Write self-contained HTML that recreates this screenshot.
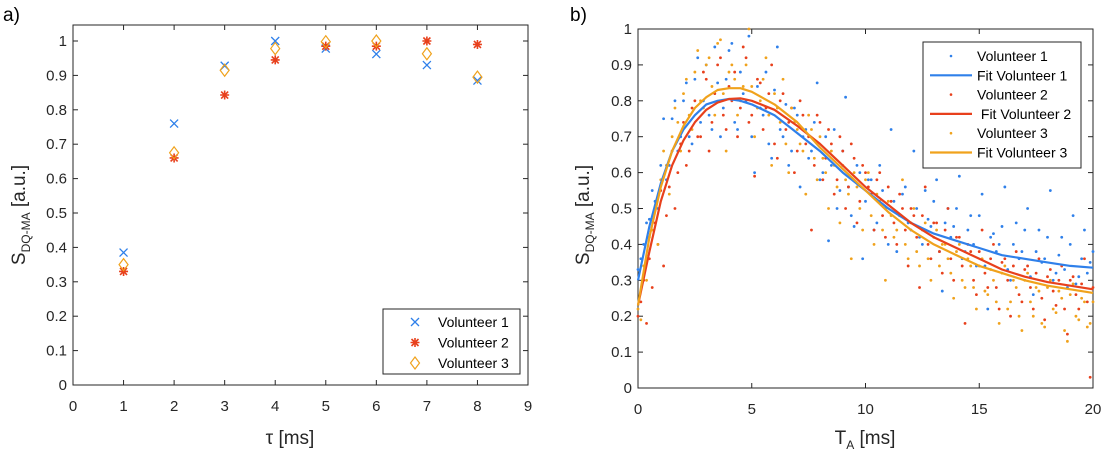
<!DOCTYPE html>
<html><head><meta charset="utf-8"><style>
body{margin:0;background:#fff;}
svg{display:block;font-family:"Liberation Sans",sans-serif;}
</style></head><body>
<svg id="fig" width="1106" height="455" viewBox="0 0 1106 455"></svg>
<script>
const tauMs=[1,2,3,4,5,6,7,8];
const leftV1=[0.385,0.76,0.928,1.0,0.978,0.962,0.93,0.885];
const leftV2=[0.33,0.66,0.843,0.945,0.985,0.985,1.0,0.99];
const leftV3=[0.35,0.675,0.915,0.978,0.998,1.0,0.963,0.895];
const leftXTicks=[0,1,2,3,4,5,6,7,8,9];
const yTicks=[0,0.1,0.2,0.3,0.4,0.5,0.6,0.7,0.8,0.9,1];
const yTickLabels=["0","0.1","0.2","0.3","0.4","0.5","0.6","0.7","0.8","0.9","1"];
const rightXTicks=[0,5,10,15,20];
const fitT=[0,0.5,1,1.5,2,2.5,3,3.5,4,4.5,5,6,7,8,9,10,11,12,13,14,15,16,17,18,19,20];
const fitV1=[0.30,0.45,0.57,0.66,0.72,0.76,0.79,0.80,0.805,0.80,0.79,0.76,0.71,0.66,0.60,0.55,0.50,0.46,0.43,0.41,0.39,0.37,0.36,0.35,0.34,0.335];
const fitV2=[0.23,0.38,0.52,0.62,0.69,0.74,0.775,0.795,0.805,0.807,0.80,0.775,0.73,0.68,0.62,0.56,0.51,0.46,0.42,0.39,0.36,0.33,0.31,0.295,0.285,0.275];
const fitV3=[0.23,0.42,0.56,0.66,0.73,0.78,0.81,0.83,0.835,0.835,0.825,0.79,0.74,0.67,0.61,0.55,0.49,0.44,0.40,0.37,0.34,0.32,0.30,0.285,0.275,0.265];
const scatV1=[0.33,0.40,0.47,0.52,0.62,0.58,0.75,0.66,0.80,0.70,0.86,0.74,0.90,0.72,0.85,0.78,0.94,0.74,0.88,0.80,0.70,0.84,0.76,0.68,0.83,0.72,0.79,0.66,0.76,0.70,0.64,0.74,0.58,0.70,0.62,0.50,0.66,0.56,0.45,0.60,0.52,0.58,0.46,0.55,0.40,0.52,0.48,0.56,0.44,0.50,0.40,0.47,0.52,0.38,0.46,0.42,0.50,0.36,0.44,0.40,0.48,0.34,0.42,0.38,0.45,0.33,0.40,0.36,0.44,0.31,0.38,0.35,0.42,0.30,0.37,0.33,0.40,0.29,0.36,0.32,0.38];
const scatV2=[0.20,0.30,0.36,0.46,0.55,0.48,0.66,0.60,0.74,0.66,0.80,0.70,0.86,0.74,0.90,0.76,0.84,0.88,0.78,0.92,0.76,0.86,0.72,0.82,0.68,0.80,0.72,0.78,0.66,0.76,0.70,0.62,0.74,0.64,0.68,0.58,0.66,0.56,0.64,0.52,0.60,0.54,0.58,0.48,0.56,0.46,0.54,0.44,0.50,0.42,0.48,0.40,0.46,0.38,0.44,0.36,0.42,0.34,0.40,0.30,0.38,0.32,0.36,0.28,0.35,0.30,0.34,0.26,0.33,0.28,0.32,0.25,0.31,0.27,0.30,0.22,0.30,0.26,0.29,0.24,0.28];
const scatV3=[0.22,0.34,0.42,0.50,0.58,0.62,0.70,0.74,0.82,0.76,0.88,0.80,0.90,0.84,0.96,0.82,0.88,0.86,0.80,0.90,0.84,0.78,0.86,0.76,0.82,0.74,0.68,0.78,0.72,0.66,0.76,0.64,0.70,0.60,0.66,0.56,0.62,0.54,0.60,0.50,0.58,0.48,0.54,0.44,0.52,0.42,0.48,0.40,0.46,0.38,0.44,0.36,0.42,0.34,0.40,0.32,0.38,0.30,0.36,0.28,0.34,0.27,0.33,0.24,0.32,0.22,0.30,0.20,0.30,0.24,0.28,0.18,0.28,0.22,0.27,0.16,0.26,0.20,0.25,0.17,0.24];
const scatV1b=[0.36,0.46,0.55,0.50,0.75,0.62,0.80,0.70,0.85,0.68,0.92,0.80,0.76,0.95,0.70,0.86,0.96,0.72,0.82,0.98,0.60,0.78,0.88,0.64,0.95,0.70,0.62,0.78,0.56,0.72,0.66,0.85,0.60,0.41,0.72,0.55,0.81,0.48,0.62,0.36,0.58,0.44,0.62,0.50,0.72,0.38,0.54,0.46,0.66,0.42,0.55,0.45,0.58,0.27,0.50,0.45,0.59,0.38,0.48,0.34,0.54,0.22,0.43,0.40,0.56,0.30,0.46,0.38,0.50,0.26,0.44,0.36,0.55,0.32,0.42,0.28,0.48,0.31,0.44,0.35];
const scatV2b=[0.24,0.18,0.28,0.40,0.34,0.56,0.50,0.68,0.62,0.78,0.70,0.88,0.66,0.82,0.92,0.72,0.80,0.70,0.95,0.74,0.59,0.85,0.78,0.90,0.64,0.82,0.74,0.60,0.80,0.68,0.44,0.76,0.58,0.72,0.54,0.70,0.50,0.68,0.46,0.62,0.56,0.44,0.60,0.42,0.52,0.40,0.50,0.34,0.48,0.28,0.56,0.36,0.46,0.32,0.50,0.30,0.42,0.18,0.38,0.26,0.44,0.28,0.40,0.22,0.36,0.20,0.38,0.24,0.34,0.22,0.36,0.19,0.33,0.23,0.34,0.15,0.31,0.22,0.36,0.03];
const scatV3b=[0.19,0.30,0.44,0.40,0.66,0.54,0.78,0.66,0.86,0.72,0.94,0.78,0.92,0.76,0.97,0.66,0.90,0.76,0.84,1.0,0.70,0.80,0.92,0.62,0.78,0.86,0.60,0.74,0.68,0.54,0.72,0.58,0.64,0.50,0.62,0.46,0.58,0.36,0.56,0.44,0.60,0.40,0.52,0.30,0.48,0.44,0.58,0.36,0.50,0.34,0.46,0.30,0.44,0.40,0.36,0.25,0.40,0.28,0.34,0.22,0.36,0.26,0.30,0.18,0.34,0.24,0.28,0.16,0.32,0.20,0.27,0.17,0.30,0.21,0.25,0.13,0.29,0.19,0.24,0.18];
const scatStep=0.25;
const scatOffsetB=0.125;

const C1="#2f80ea",C2="#e8401c",C3="#f0a21c";
const NS="http://www.w3.org/2000/svg";
const svg=document.getElementById("fig");
function mk(tag,attrs,parent){const e=document.createElementNS(NS,tag);for(const k in attrs)e.setAttribute(k,attrs[k]);(parent||svg).appendChild(e);return e;}
function txt(s,attrs,parent){const e=mk("text",attrs,parent);e.textContent=s;return e;}

// LEFT
const L={x0:73,x1:528,y0:385,y1:41,top:25};
const lx=v=>L.x0+(v-0)/9*(L.x1-L.x0);
const ly=v=>L.y0-v*(L.y0-L.y1);
const gl=mk("g",{});


const fl=mk("rect",{x:L.x0,y:L.top,width:L.x1-L.x0,height:L.y0-L.top,fill:"none",stroke:"#262626","stroke-width":1},gl);


leftXTicks.forEach(t=>{const x=lx(t);
 mk("line",{x1:x,x2:x,y1:L.y0,y2:L.y0-5,stroke:"#262626"},gl);
 mk("line",{x1:x,x2:x,y1:L.top,y2:L.top+5,stroke:"#262626"},gl);
 const e=txt(String(t),{x:x,y:L.y0+26,"font-size":15,"text-anchor":"middle",fill:"#262626"},gl);
 
 });
yTicks.forEach((t,i)=>{const y=ly(t);
 mk("line",{x1:L.x0,x2:L.x0+5,y1:y,y2:y,stroke:"#262626"},gl);
 mk("line",{x1:L.x1,x2:L.x1-5,y1:y,y2:y,stroke:"#262626"},gl);
 const e=txt(yTickLabels[i],{x:L.x0-6,y:y+5,"font-size":15,"text-anchor":"end",fill:"#262626"},gl);
 
 });
function cross(x,y,c,p){mk("path",{d:`M${x-4} ${y-4}L${x+4} ${y+4}M${x-4} ${y+4}L${x+4} ${y-4}`,stroke:c,"stroke-width":1.3,fill:"none"},p);}
function star(x,y,c,p){mk("path",{d:`M${x-4.5} ${y}L${x+4.5} ${y}M${x} ${y-4.5}L${x} ${y+4.5}M${x-3.5} ${y-3.5}L${x+3.5} ${y+3.5}M${x-3.5} ${y+3.5}L${x+3.5} ${y-3.5}`,stroke:c,"stroke-width":1.6,fill:"none"},p);}
function diamond(x,y,c,p){mk("path",{d:`M${x} ${y-6}L${x+4.5} ${y}L${x} ${y+6}L${x-4.5} ${y}Z`,stroke:c,"stroke-width":1.2,fill:"none"},p);}
tauMs.forEach((t,i)=>{
 const g=mk("g",{},gl);cross(lx(t),ly(leftV1[i]),C1,g);
 const g2=mk("g",{},gl);star(lx(t),ly(leftV2[i]),C2,g2);
 const g3=mk("g",{},gl);diamond(lx(t),ly(leftV3[i]),C3,g3);
});
const lleg=mk("g",{},gl);


mk("rect",{x:383,y:309,width:137,height:65,fill:"#fff",stroke:"#262626"},lleg);
[["Volunteer 1",cross,C1],["Volunteer 2",star,C2],["Volunteer 3",diamond,C3]].forEach((e,i)=>{const y=322+i*20.5;
 const g=mk("g",{},lleg);
 e[1](415,y,e[2],g);txt(e[0],{x:438,y:y+5,"font-size":14,fill:"#000"},g);});
const ylab=txt("",{transform:"translate(25,215) rotate(-90)","font-size":19,"text-anchor":"middle",fill:"#262626"});
ylab.innerHTML='S<tspan font-size="12" dy="5">DQ-MA</tspan><tspan dy="-5"> [a.u.]</tspan>';


const xlab=txt("τ [ms]",{x:290,y:444,"font-size":19,"text-anchor":"middle",fill:"#262626"});


const pa=txt("a)",{x:3,y:21,"font-size":19,fill:"#000"});



// RIGHT
const R={x0:638,x1:1093,y0:388,y1:29};
const rx=v=>R.x0+v/20*(R.x1-R.x0);
const ry=v=>R.y0-v*(R.y0-R.y1);
const gr=mk("g",{});


const fr=mk("rect",{x:R.x0,y:R.y1,width:R.x1-R.x0,height:R.y0-R.y1,fill:"none",stroke:"#262626"},gr);


rightXTicks.forEach(t=>{const x=rx(t);
 mk("line",{x1:x,x2:x,y1:R.y0,y2:R.y0-5,stroke:"#262626"},gr);
 mk("line",{x1:x,x2:x,y1:R.y1,y2:R.y1+5,stroke:"#262626"},gr);
 const e=txt(String(t),{x:x,y:R.y0+26,"font-size":15,"text-anchor":"middle",fill:"#262626"},gr);
 
 });
yTicks.forEach((t,i)=>{const y=ry(t);
 mk("line",{x1:R.x0,x2:R.x0+5,y1:y,y2:y,stroke:"#262626"},gr);
 mk("line",{x1:R.x1,x2:R.x1-5,y1:y,y2:y,stroke:"#262626"},gr);
 const e=txt(yTickLabels[i],{x:R.x0-6,y:y+5,"font-size":15,"text-anchor":"end",fill:"#262626"},gr);
 
 });
[[scatV1,scatV1b,C1,'volunteer-1-dots'],[scatV2,scatV2b,C2,'volunteer-2-dots'],[scatV3,scatV3b,C3,'volunteer-3-dots']].forEach(s=>{
 const g=mk("g",{fill:s[2]},gr);
 
 
 s[0].forEach((v,i)=>{mk("circle",{cx:rx(i*scatStep),cy:ry(v),r:1.4},g);});
 s[1].forEach((v,i)=>{mk("circle",{cx:rx(scatOffsetB+i*scatStep),cy:ry(v),r:1.4},g);});
});
[[fitV1,C1,'fit-volunteer-1-line'],[fitV2,C2,'fit-volunteer-2-line'],[fitV3,C3,'fit-volunteer-3-line']].forEach(s=>{
 const d=fitT.map((t,i)=>(i?"L":"M")+rx(t).toFixed(1)+" "+ry(s[0][i]).toFixed(1)).join("");
 const p=mk("path",{d:d,stroke:s[1],"stroke-width":2.2,fill:"none","stroke-linejoin":"round"},gr);
 
 
});
const rleg=mk("g",{},gr);


mk("rect",{x:923,y:42,width:158,height:126,fill:"#fff",stroke:"#262626"},rleg);
[["Volunteer 1",C1,0],["Fit Volunteer 1",C1,1],["Volunteer 2",C2,0],[" Fit Volunteer 2",C2,1],["Volunteer 3",C3,0],["Fit Volunteer 3",C3,1]].forEach((e,i)=>{const y=56+i*19.3;
 const g=mk("g",{},rleg);
 if(e[2])mk("line",{x1:930,x2:972,y1:y,y2:y,stroke:e[1],"stroke-width":2.2},g);else mk("circle",{cx:951,cy:y,r:1.3,fill:e[1]},g);
 const t=txt(e[0],{x:977,y:y+5,"font-size":14,fill:"#000"},g);t.setAttribute("xml:space","preserve");t.style.whiteSpace="pre";});
const ylab2=txt("",{transform:"translate(589,215) rotate(-90)","font-size":19,"text-anchor":"middle",fill:"#262626"});
ylab2.innerHTML='S<tspan font-size="12" dy="5">DQ-MA</tspan><tspan dy="-5"> [a.u.]</tspan>';


const xlab2=txt("",{x:865,y:444,"font-size":19,"text-anchor":"middle",fill:"#262626"});
xlab2.innerHTML='T<tspan font-size="12" dy="5">A</tspan><tspan dy="-5"> [ms]</tspan>';


const pb=txt("b)",{x:570,y:21,"font-size":19,fill:"#000"});


</script>
</body></html>
